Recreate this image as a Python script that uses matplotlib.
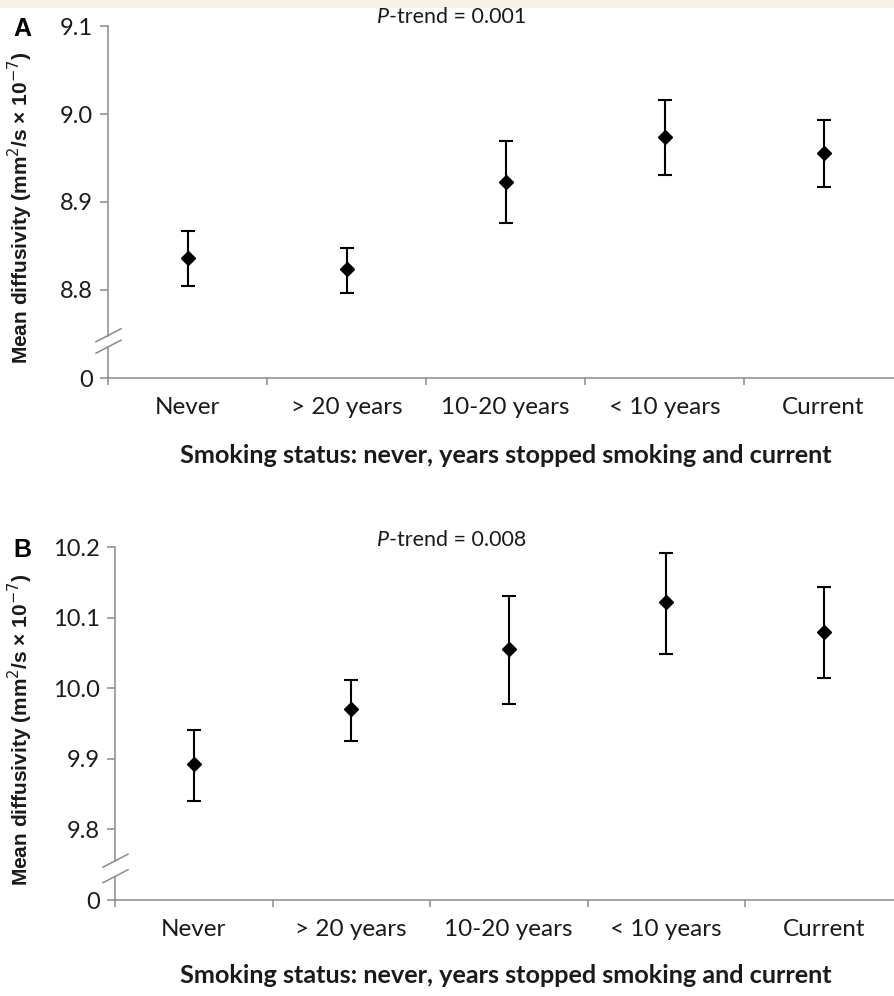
import matplotlib
matplotlib.use("Agg")
import matplotlib.pyplot as plt
from matplotlib.ticker import FixedLocator
from matplotlib.patches import Rectangle

categories = ["Never", "> 20 years", "10-20 years", "< 10 years", "Current"]

a_mean = [8.836, 8.824, 8.923, 8.974, 8.956]
a_low = [8.804, 8.797, 8.876, 8.931, 8.917]
a_high = [8.867, 8.848, 8.969, 9.016, 8.993]
a_ticks = [8.8, 8.9, 9.0, 9.1]
a_tick_labels = ["8.8", "8.9", "9.0", "9.1"]
a_ptrend = "0.001"

b_mean = [9.892, 9.971, 10.055, 10.122, 10.080]
b_low = [9.840, 9.925, 9.977, 10.048, 10.014]
b_high = [9.941, 10.011, 10.131, 10.191, 10.143]
b_ticks = [9.8, 9.9, 10.0, 10.1, 10.2]
b_tick_labels = ["9.8", "9.9", "10.0", "10.1", "10.2"]
b_ptrend = "0.008"

W, H = 894, 996
fig = plt.figure(figsize=(W / 100, H / 100), dpi=100)
fig.patch.set_facecolor("white")
fig.add_artist(Rectangle((0, 1 - 8 / H), 1, 8 / H, transform=fig.transFigure,
                         facecolor="#F5F1E3", edgecolor="none"))

SANS = ["Lato", "DejaVu Sans"]
ARIAL = ["Liberation Sans", "DejaVu Sans"]
AX_COLOR = "#8a8a8a"
TXT = "#1a1a1a"


def fx(px):
    return px / W


def fy(py):
    return 1 - py / H


def panel(left_px, top_px, bottom_px, spacing_px, ymin, ymax, means, lows, highs,
          ticks, tick_labels, letter, ptrend, ptrend_y, xlabel_y, break_a, break_b):
    right_px = W
    ax = fig.add_axes([fx(left_px), fy(bottom_px), fx(right_px - left_px),
                       (bottom_px - top_px) / H])
    n = len(categories)
    xmax = -0.5 + (right_px - left_px) / spacing_px
    ax.set_xlim(-0.5, xmax)
    ax.set_ylim(ymin, ymax)
    xs = list(range(n))
    yerr = [[m - l for m, l in zip(means, lows)], [h - m for m, h in zip(means, highs)]]
    ax.errorbar(xs, means, yerr=yerr, fmt="D", color="black", ms=7.6,
                ecolor="black", elinewidth=1.5, capsize=4.7, capthick=1.5, zorder=3)
    for s in ["top", "right", "left"]:
        ax.spines[s].set_visible(False)
    ax.spines["bottom"].set_color(AX_COLOR)
    ax.spines["bottom"].set_linewidth(1.1)
    # left axis with break
    yt = ax.get_yaxis_transform()
    ax.plot([0, 0], [ymin, break_b], transform=yt, color=AX_COLOR, lw=1.1,
            clip_on=False, zorder=2)
    ax.plot([0, 0], [break_a, ymax], transform=yt, color=AX_COLOR, lw=1.1,
            clip_on=False, zorder=2)
    # break slashes
    fig.canvas.draw()
    inv = fig.transFigure.inverted()
    for yb in (break_a, break_b):
        p = ax.transData.transform((-0.5, yb))
        a0 = inv.transform((p[0] - 12, p[1] - 6))
        a1 = inv.transform((p[0] + 13, p[1] + 7))
        fig.add_artist(plt.Line2D([a0[0], a1[0]], [a0[1], a1[1]],
                                  transform=fig.transFigure, color=AX_COLOR, lw=1.1))
    ax.yaxis.set_major_locator(FixedLocator([ymin] + ticks))
    ax.set_yticklabels(["0"] + tick_labels, fontfamily=SANS, fontsize=17, color=TXT)
    ax.tick_params(axis="y", length=6, width=1.1, color=AX_COLOR, pad=5)
    ax.xaxis.set_major_locator(FixedLocator(xs))
    ax.set_xticklabels(categories, fontfamily=SANS, fontsize=17.5, color=TXT)
    ax.xaxis.set_minor_locator(FixedLocator([i + 0.5 for i in range(-1, n)]))
    ax.tick_params(axis="x", which="major", length=0, pad=14)
    ax.tick_params(axis="x", which="minor", length=5, width=1.1, color=AX_COLOR)
    ax.set_facecolor("none")
    fig.text(fx(22), fy(top_px + 3), letter, fontsize=18, fontweight="bold",
             family=ARIAL, ha="center", va="center")
    fig.text(fx(389), fy(ptrend_y), "P", fontsize=15.5, ha="right", va="center",
             family=SANS, style="italic", color=TXT)
    fig.text(fx(389), fy(ptrend_y), "-trend = " + ptrend, fontsize=15.5, ha="left",
             va="center", family=SANS, color=TXT)
    fig.text(fx(506), fy(xlabel_y), "Smoking status: never, years stopped smoking and current",
             fontsize=18.2, fontweight="bold", family=SANS, ha="center", va="center",
             color=TXT)
    fig.text(fx(20), fy((top_px + bottom_px) / 2 + 6),
             "Mean diffusivity (mm$^{2}$/s × 10$^{-7}$)", rotation=90, fontsize=15,
             fontweight="bold", family=ARIAL, ha="center", va="center", color=TXT)
    return ax


panel(108, 26, 378, 159, 8.7, 9.1, a_mean, a_low, a_high, a_ticks, a_tick_labels,
      "A", a_ptrend, 17, 455, 8.748, 8.735)
panel(115, 547, 900, 157.5, 9.7, 10.2, b_mean, b_low, b_high, b_ticks, b_tick_labels,
      "B", b_ptrend, 540, 975, 9.755, 9.733)

fig.savefig("out.png", dpi=100)
